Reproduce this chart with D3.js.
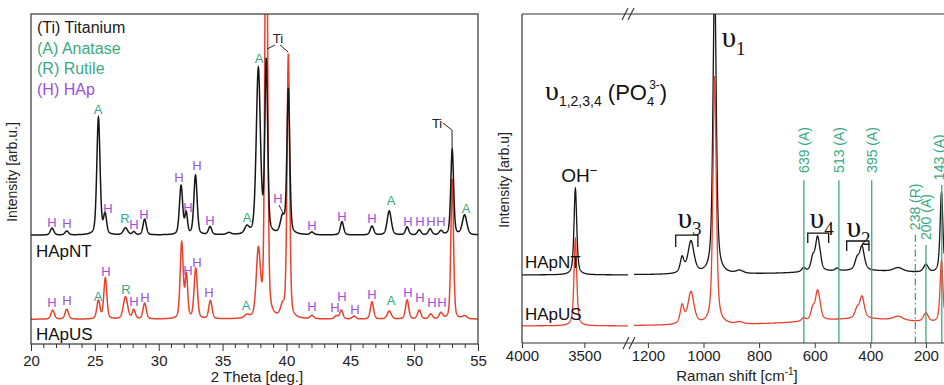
<!DOCTYPE html>
<html lang="en">
<head>
<meta charset="UTF-8">
<title>XRD and Raman spectra</title>
<script src="https://cdn.jsdelivr.net/npm/d3@7"></script>
<style>
  body { margin: 0; background: #fff; }
  svg { font-family: "Liberation Sans", Arial, sans-serif; }
</style>
</head>
<body>
<svg id="chart" width="944" height="385"></svg>
<script>
// ---------- XRD (left) : peaks as [2theta, intensity, fwhm] ----------
const xrdNT = [
  [21.65, 21, 0.32], [22.8, 12, 0.32], [25.28, 355, 0.3], [25.8, 60, 0.28],
  [27.4, 21, 0.4], [28.05, 9, 0.28], [28.9, 48, 0.3], [31.75, 148, 0.3],
  [32.15, 63, 0.24], [32.88, 180, 0.3], [34.02, 24, 0.3], [35.5, 6, 0.4],
  [36.9, 21, 0.4], [37.8, 500, 0.38], [38.42, 520, 0.26], [39.7, 50, 0.4],
  [40.15, 440, 0.26], [42.0, 8, 0.32], [44.35, 40, 0.3], [46.7, 27, 0.32],
  [48.05, 73, 0.38], [49.45, 24, 0.3], [50.4, 15, 0.32], [51.25, 18, 0.32],
  [52.1, 12, 0.32], [52.98, 258, 0.26], [53.95, 60, 0.42]
];
const xrdUS = [
  [21.7, 27, 0.32], [22.8, 30, 0.32], [25.28, 55, 0.3], [25.82, 124, 0.28],
  [27.4, 67, 0.4], [28.05, 27, 0.28], [28.9, 48, 0.3], [31.8, 230, 0.28],
  [32.17, 128, 0.24], [32.9, 152, 0.3], [34.05, 55, 0.3], [36.9, 9, 0.4],
  [37.8, 200, 0.38], [38.42, 1500, 0.24], [39.7, 30, 0.4], [40.15, 800, 0.24],
  [42.0, 10, 0.32], [43.9, 9, 0.32], [44.3, 27, 0.3], [45.3, 9, 0.32],
  [46.7, 52, 0.3], [48.05, 24, 0.38], [49.45, 58, 0.3], [50.4, 27, 0.32],
  [51.3, 15, 0.32], [52.1, 18, 0.32], [52.98, 425, 0.24], [53.95, 9, 0.42]
];
const xrdOffsetNT = 330;
const xrdOffsetUS = 75;
const xrdMajorTicks = [20, 25, 30, 35, 40, 45, 50, 55];
const xrdMinorTicks = d3.range(20, 56, 1);

// phase labels: [2theta, intensity, letter]
const xrdLabelsNT = [
  [21.64, 370, "H"], [22.82, 367, "H"], [25.25, 712, "A"], [26.03, 412, "H"],
  [27.36, 382, "R"], [28.07, 364, "H"], [28.85, 394, "H"], [31.59, 506, "H"],
  [32.29, 415, "H"], [33.0, 542, "H"], [34.02, 376, "H"], [36.91, 385, "A"],
  [37.85, 867, "A"], [39.34, 442, "H"], [42.0, 361, "H"], [44.35, 388, "H"],
  [46.7, 382, "H"], [48.19, 436, "A"], [49.52, 373, "H"], [50.46, 373, "H"],
  [51.32, 373, "H"], [52.1, 373, "H"], [54.06, 412, "A"]
];
const xrdLabelsUS = [
  [21.64, 127, "H"], [22.82, 133, "H"], [25.25, 145, "A"], [25.87, 221, "H"],
  [27.44, 167, "R"], [28.07, 130, "H"], [28.93, 142, "H"], [32.29, 224, "H"],
  [33.0, 248, "H"], [33.94, 158, "H"], [36.84, 118, "A"], [42.0, 115, "H"],
  [43.8, 112, "H"], [44.35, 145, "H"], [45.37, 106, "H"], [46.7, 152, "H"],
  [48.19, 133, "A"], [49.52, 158, "H"], [50.46, 142, "H"], [51.4, 127, "H"],
  [52.18, 127, "H"]
];
const legendItems = [["(Ti) Titanium", "Ti"], ["(A) Anatase", "A"], ["(R) Rutile", "R"], ["(H) HAp", "H"]];

// ---------- Raman (right) : peaks as [shift, intensity, fwhm] ----------
const ramanNT = [
  [3572, 262, 26], [1077, 46, 16], [1045, 98, 26], [960, 900, 14], [870, 9, 30],
  [640, 12, 16], [607, 38, 16], [590, 100, 18], [580, 18, 12], [520, 8, 15],
  [448, 32, 18], [430, 72, 20], [300, 12, 40], [200, 24, 20], [144, 245, 12],
  [430, 12, 500]
];
const ramanUS = [
  [3572, 265, 26], [1077, 55, 16], [1045, 98, 26], [960, 755, 14], [870, 6, 30],
  [640, 10, 16], [607, 34, 16], [590, 86, 18], [580, 16, 12], [448, 26, 18],
  [430, 66, 20], [300, 12, 40], [200, 27, 20], [144, 190, 12], [430, 21, 500]
];
const ramanOffsetNT = 207;
const ramanOffsetUS = 52;
const ramanTicksHigh = [4000, 3500];
const ramanTicksLow = [1200, 1000, 800, 600, 400, 200];
// TiO2 reference lines: [shift, label, label start, line top, dashed]
const tioLines = [
  [639, "639 (A)", 517, 495, false], [513, "513 (A)", 517, 495, false],
  [395, "395 (A)", 517, 495, false], [238, "238 (R)", 343, 328, true],
  [200, "200 (A)", 313, 298, false], [143, "143 (A)", 495, 480, false]
];

const black = "#161616", red = "#e8412c", green = "#3aa983", purple = "#9c4fe0";
const colorOf = { Ti: "#1a1a1a", A: green, R: green, H: purple };

function profile(peaks, x, eta) {
  let s = 0;
  for (const [c, h, w] of peaks) {
    const t = (x - c) / (w / 2);
    s += h * (eta / (1 + t * t) + (1 - eta) * Math.exp(-Math.LN2 * t * t));
  }
  return s;
}

const svg = d3.select("#chart");

// ================= left panel =================
const L = { left: 31, right: 478, top: 14, bottom: 344 };
const xL = d3.scaleLinear().domain([20, 55]).range([L.left, L.right]);
const yL = d3.scaleLinear().domain([0, 1000]).range([L.bottom, L.top]);

svg.append("clipPath").attr("id", "clipL").append("rect")
  .attr("x", L.left).attr("y", L.top).attr("width", L.right - L.left).attr("height", L.bottom - L.top);

const gridL = d3.range(20, 55.0001, 0.01);
const lineL = d3.line().x(d => xL(d[0])).y(d => yL(d[1]));
const gL = svg.append("g").attr("clip-path", "url(#clipL)");
gL.append("path")
  .attr("d", lineL(gridL.map(t => [t, xrdOffsetUS + profile(xrdUS, t, 0.35)])))
  .attr("fill", "none").attr("stroke", red).attr("stroke-width", 1.5);
gL.append("path")
  .attr("d", lineL(gridL.map(t => [t, xrdOffsetNT + profile(xrdNT, t, 0.35)])))
  .attr("fill", "none").attr("stroke", black).attr("stroke-width", 1.5);

svg.append("rect").attr("x", L.left).attr("y", L.top)
  .attr("width", L.right - L.left).attr("height", L.bottom - L.top)
  .attr("fill", "none").attr("stroke", "#333").attr("stroke-width", 1.2);

const axL = svg.append("g").attr("transform", `translate(0,${L.bottom})`)
  .call(d3.axisBottom(xL).tickValues(xrdMajorTicks).tickSize(7).tickPadding(4));
axL.select(".domain").remove();
axL.selectAll("text").attr("font-size", 15).attr("fill", "#222").attr("font-family", "Liberation Sans, Arial");
axL.selectAll("line").attr("stroke", "#333");
svg.append("g").selectAll("line").data(xrdMinorTicks.filter(t => t % 5 !== 0)).join("line")
  .attr("x1", d => xL(d)).attr("x2", d => xL(d))
  .attr("y1", L.bottom).attr("y2", L.bottom + 4).attr("stroke", "#333");

svg.append("text").attr("x", 257).attr("y", 382)
  .attr("text-anchor", "middle").attr("font-size", 15).attr("fill", "#222").text("2 Theta [deg.]");
svg.append("text").attr("transform", "translate(17,172) rotate(-90)")
  .attr("text-anchor", "middle").attr("font-size", 14).attr("fill", "#222").text("Intensity [arb.u.]");

// legend
svg.append("g").selectAll("text").data(legendItems).join("text")
  .attr("x", 37).attr("y", (d, i) => 33 + i * 20.7)
  .attr("font-size", 16).attr("fill", d => colorOf[d[1]]).text(d => d[0]);

// phase letters
const drawLetters = rows => svg.append("g").selectAll("text").data(rows).join("text")
  .attr("x", d => xL(d[0])).attr("y", d => yL(d[1])).attr("dy", "0.36em")
  .attr("text-anchor", "middle").attr("font-size", 13)
  .attr("fill", d => colorOf[d[2]]).text(d => d[2]);
drawLetters(xrdLabelsNT);
drawLetters(xrdLabelsUS);

svg.append("text").attr("x", 36).attr("y", 257).attr("font-size", 17).attr("fill", "#111").text("HApNT");
svg.append("text").attr("x", 36).attr("y", 340).attr("font-size", 17).attr("fill", "#111").text("HApUS");

// Ti annotations
const ann = svg.append("g").attr("fill", "none").attr("stroke", "#222").attr("stroke-width", 1);
svg.append("text").attr("x", xL(39.34)).attr("y", yL(927)).attr("dy", "0.36em")
  .attr("text-anchor", "middle").attr("font-size", 13).attr("fill", "#222").text("Ti");
ann.append("path").attr("d", `M${xL(39.11)},${yL(906)}L${xL(38.48)},${yL(894)}`);
ann.append("path").attr("d", `M${xL(39.5)},${yL(906)}L${xL(40.13)},${yL(885)}`);
svg.append("text").attr("x", xL(52.2)).attr("y", yL(670)).attr("dy", "0.36em")
  .attr("text-anchor", "end").attr("font-size", 13).attr("fill", "#222").text("Ti");
ann.append("path").attr("d", `M${xL(52.25)},${yL(670)}L${xL(52.97)},${yL(648)}V${yL(579)}`);
ann.append("path").attr("stroke", "#333").attr("d", `M${xL(39.42)},${yL(421)}L${xL(39.81)},${yL(391)}`);

// ================= right panel =================
const R = { left: 522, right: 944, top: 14, bottom: 343 };
const xa = d3.scaleLinear().domain([4000, 3150]).range([R.left, 628]);
const xb = d3.scaleLinear().domain([1250, 135]).range([634, R.right]);
const yR = d3.scaleLinear().domain([0, 1000]).range([R.bottom, R.top]);

svg.append("clipPath").attr("id", "clipR").append("rect")
  .attr("x", R.left).attr("y", R.top).attr("width", R.right - R.left).attr("height", R.bottom - R.top);
const gR = svg.append("g").attr("clip-path", "url(#clipR)");

const segA = d3.range(4000, 3149, -1);
const segB = d3.range(1250, 134, -0.5);
[[ramanNT, ramanOffsetNT, black], [ramanUS, ramanOffsetUS, red]].forEach(([pk, off, col]) => {
  const la = d3.line().x(d => xa(d)).y(d => yR(off + profile(pk, d, 0.6)));
  const lb = d3.line().x(d => xb(d)).y(d => yR(off + profile(pk, d, 0.6)));
  gR.append("path").attr("d", la(segA)).attr("fill", "none").attr("stroke", col).attr("stroke-width", 1.3);
  gR.append("path").attr("d", lb(segB)).attr("fill", "none").attr("stroke", col).attr("stroke-width", 1.3);
});

// TiO2 reference lines
const gl = svg.append("g");
tioLines.forEach(([w, lab, ls, lt, dashed]) => {
  gl.append("line").attr("x1", xb(w)).attr("x2", xb(w)).attr("y1", yR(lt)).attr("y2", R.bottom)
    .attr("stroke", green).attr("stroke-width", 1.3)
    .attr("stroke-dasharray", dashed ? "7,3,1.5,3" : null);
  const shift = w < 150 ? 2 : 5;
  gl.append("text").attr("transform", `translate(${xb(w) + shift},${yR(ls)}) rotate(-90)`)
    .attr("font-size", 14).attr("fill", green).text(lab);
});

// frame (right side is outside the picture)
const fr = svg.append("g").attr("stroke", "#333").attr("stroke-width", 1.2);
fr.append("line").attr("x1", R.left).attr("x2", R.right).attr("y1", R.top).attr("y2", R.top);
fr.append("line").attr("x1", R.left).attr("x2", R.right).attr("y1", R.bottom).attr("y2", R.bottom);
fr.append("line").attr("x1", R.left).attr("x2", R.left).attr("y1", R.top).attr("y2", R.bottom);

[[xa, ramanTicksHigh], [xb, ramanTicksLow]].forEach(([sc, tv]) => {
  const ax = svg.append("g").attr("transform", `translate(0,${R.bottom})`)
    .call(d3.axisBottom(sc).tickValues(tv).tickFormat(d3.format("d")).tickSize(5).tickPadding(2));
  ax.select(".domain").remove();
  ax.selectAll("line").attr("stroke", "#333");
  ax.selectAll("text").attr("font-size", 15).attr("fill", "#222").attr("font-family", "Liberation Sans, Arial");
});

// axis break marks
const brk = svg.append("g").attr("stroke", "#333").attr("stroke-width", 1.1);
[[626, R.bottom], [632, R.bottom], [625, R.top], [631, R.top]].forEach(([x, y]) => {
  brk.append("line").attr("x1", x - 3).attr("y1", y + 6).attr("x2", x + 3).attr("y2", y - 6);
});

const ramanTitle = svg.append("text").attr("x", 737).attr("y", 381)
  .attr("text-anchor", "middle").attr("font-size", 15).attr("fill", "#222");
ramanTitle.append("tspan").text("Raman shift [cm");
ramanTitle.append("tspan").attr("font-size", 10).attr("dy", -6).text("-1");
ramanTitle.append("tspan").attr("dy", 6).text("]");
svg.append("text").attr("transform", "translate(509,180) rotate(-90)")
  .attr("text-anchor", "middle").attr("font-size", 14).attr("fill", "#222").text("Intensity [arb.u]");

svg.append("text").attr("x", 525).attr("y", 268).attr("font-size", 17).attr("fill", "#111").text("HApNT");
svg.append("text").attr("x", 525).attr("y", 320).attr("font-size", 17).attr("fill", "#111").text("HApUS");

// OH- label
const oh = svg.append("text").attr("x", xa(3572) + 4).attr("y", yR(489))
  .attr("text-anchor", "middle").attr("font-size", 19).attr("fill", "#111");
oh.append("tspan").text("OH");
oh.append("tspan").attr("font-size", 13).attr("dy", -7).text("\u2212");

// phosphate mode labels
const serif = "Liberation Serif, Times New Roman, serif";
function nu(x, v, sub, big, small) {
  const t = svg.append("text").attr("x", x).attr("y", yR(v)).attr("fill", "#111");
  t.append("tspan").attr("font-family", serif).attr("font-size", big).text("\u03c5");
  t.append("tspan").attr("font-family", serif).attr("font-size", small).attr("dy", small * 0.4).text(sub);
  return t;
}
nu(xb(960) + 7, 900, "1", 29, 19);
nu(xb(1100) + 2, 350, "3", 29, 19);
nu(xb(625) + 2, 350, "4", 29, 19);
nu(xb(485) + 0, 322, "2", 29, 19);

const brackets = [[1100, 1020, 328, 292], [625, 550, 334, 304], [485, 405, 310, 280]];
svg.append("g").selectAll("path").data(brackets).join("path")
  .attr("d", d => `M${xb(d[0])},${yR(d[3])}V${yR(d[2])}H${xb(d[1])}V${yR(d[3])}`)
  .attr("fill", "none").attr("stroke", "#111").attr("stroke-width", 1.3);

const po = svg.append("text").attr("x", 545).attr("y", yR(739)).attr("fill", "#111");
po.append("tspan").attr("font-family", serif).attr("font-size", 28).text("\u03c5");
po.append("tspan").attr("font-size", 14).attr("dy", 6).text("1,2,3,4");
po.append("tspan").attr("font-size", 22).attr("dy", -6).text(" (PO");
po.append("tspan").attr("font-size", 13).attr("dy", 6).text("4");
po.append("tspan").attr("font-size", 12).attr("dx", -5).attr("dy", -17).text("3-");
po.append("tspan").attr("font-size", 22).attr("dy", 11).text(")");
</script>
</body>
</html>
